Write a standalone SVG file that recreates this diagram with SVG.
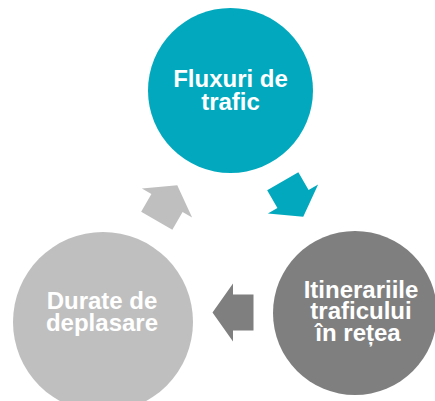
<svg xmlns="http://www.w3.org/2000/svg" width="435" height="401" viewBox="0 0 435 401">
  <defs>
    <style>
      .lbl { font-family: "Liberation Sans", Arial, sans-serif; font-weight: bold; font-size: 24px; fill: #ffffff; text-anchor: middle; }
    </style>
    <polygon id="arrow" points="-20.5,-18 0,-18 0,-29 20.5,0 0,29 0,18 -20.5,18"/>
  </defs>
  <rect width="435" height="401" fill="#ffffff"/>
  <g id="connectors">
    <use href="#arrow" fill="#02a9be" transform="translate(293,199) rotate(60)"/>
    <use href="#arrow" fill="#7f7f7f" transform="translate(233,312.5) rotate(180)"/>
    <use href="#arrow" fill="#bfbfbf" transform="translate(167,203) rotate(-60)"/>
  </g>
  <g id="node-fluxuri">
    <circle cx="230.5" cy="90.5" r="82.5" fill="#02a9be"/>
    <text class="lbl" x="230.5" y="87">Fluxuri de</text>
    <text class="lbl" x="230.5" y="109.5">trafic</text>
  </g>
  <g id="node-itinerariile">
    <circle cx="355" cy="313" r="82" fill="#7f7f7f"/>
    <text class="lbl" x="361" y="297.5">Itinerariile</text>
    <text class="lbl" x="361" y="319.3">traficului</text>
    <text class="lbl" x="358" y="341">în rețea</text>
  </g>
  <g id="node-durate">
    <circle cx="103" cy="322" r="90" fill="#bfbfbf"/>
    <text class="lbl" x="102" y="309.3">Durate de</text>
    <text class="lbl" x="102" y="330.5">deplasare</text>
  </g>
</svg>
